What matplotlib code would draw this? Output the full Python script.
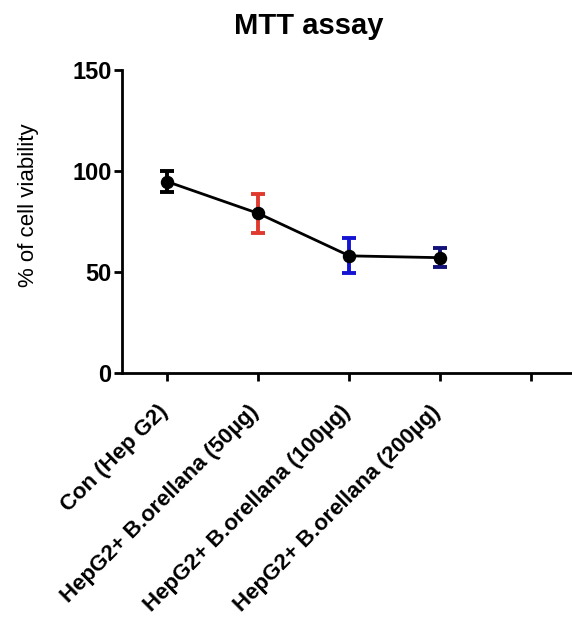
import matplotlib
matplotlib.use("Agg")
import matplotlib.pyplot as plt
import matplotlib.transforms as mtransforms
import numpy as np

plt.rcParams['font.family'] = ['Liberation Sans', 'DejaVu Sans']

# data
groups = ['Con (Hep G2)', 'HepG2+ B.orellana (50µg)',
          'HepG2+ B.orellana (100µg)', 'HepG2+ B.orellana (200µg)']
viability = [94.7, 79.0, 58.0, 57.1]
sem = [5.2, 9.6, 8.6, 4.7]
bar_colors = ['#000000', '#e03a2e', '#1414d2', '#12127a']

fig = plt.figure(figsize=(5.72, 6.18), dpi=100)
ax = fig.add_axes([0.2133, 0.3964, 0.787, 0.4903])

x = np.arange(len(groups))
ax.plot(x, viability, color='black', lw=2.0, zorder=2)
for xi, v, e, c in zip(x, viability, sem, bar_colors):
    ax.errorbar(xi, v, yerr=e, fmt='none', ecolor=c, elinewidth=2.8,
                capsize=5, capthick=2.8, zorder=3)
ax.scatter(x, viability, s=75, color='black', zorder=4)

ax.set_xlim(-0.5, 4.45)
ax.set_ylim(0, 150)
ax.set_yticks([0, 50, 100, 150])
ax.set_xticks(list(x) + [4])
ax.set_xticklabels([])

# rotated category labels, placed under each tick
trans = ax.get_xaxis_transform() + mtransforms.ScaledTranslation(
    -0.10, -0.28, fig.dpi_scale_trans)
for xi, g in zip(x, groups):
    ax.text(xi, 0, g, transform=trans, rotation=45, ha='right', va='top',
            rotation_mode='anchor', fontsize=16, fontweight='bold')

for lab in ax.get_yticklabels():
    lab.set_fontsize(17)
    lab.set_fontweight('bold')

for s in ['top', 'right']:
    ax.spines[s].set_visible(False)
for s in ['left', 'bottom']:
    ax.spines[s].set_linewidth(2.0)
ax.tick_params(axis='both', direction='out', length=5.5, width=2.0, pad=2)

ax.set_ylabel('% of cell viability', fontsize=16)
ax.yaxis.set_label_coords(-0.185, 0.555)
fig.text(0.539, 0.958, 'MTT assay', ha='center', va='center',
         fontsize=21, fontweight='bold')

fig.savefig('out.png', dpi=100)
